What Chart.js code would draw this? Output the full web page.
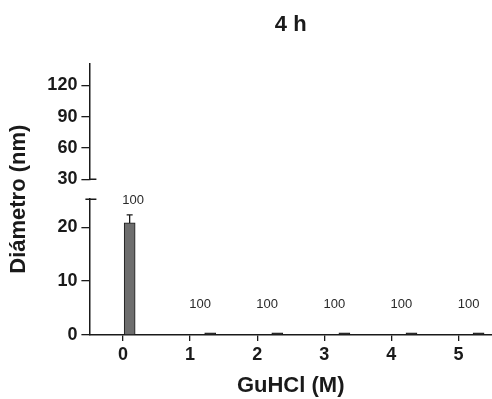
<!DOCTYPE html>
<html>
<head>
<meta charset="utf-8">
<script src="https://cdn.jsdelivr.net/npm/chart.js@4.4.1/dist/chart.umd.min.js"></script>
<style>
  html, body { margin: 0; padding: 0; background: #fff; }
  #wrap { width: 492px; height: 399px; }
</style>
</head>
<body>
<div id="wrap"><canvas id="c" width="492" height="399"></canvas></div>
<script>
// ---- data ----
const guhclTicks = [0, 1, 2, 3, 4, 5];              // x tick labels (M)
const barPositions = [0.1, 1.3, 2.3, 3.3, 4.3, 5.3];  // GuHCl (M) of each bar
const diameters = [20.8, 0.4, 0.4, 0.4, 0.4, 0.4];    // nm
const errors = [1.5, 0, 0, 0, 0, 0];                  // nm (upper error)
const populations = ['100', '100', '100', '100', '100', '100']; // % labels
const upperTicks = [30, 60, 90, 120];
const lowerTicks = [0, 10, 20];
const upperRange = [30, 141];
const lowerRange = [0, 25.2];

const FONT = "'Liberation Sans', Arial, Helvetica, sans-serif";
const INK = '#1a1a1a';

const errorAndLabels = {
  id: 'errorAndLabels',
  afterDatasetsDraw(chart) {
    const ctx = chart.ctx;
    const xs = chart.scales.x, ys = chart.scales.yBottom;
    ctx.save();
    ctx.strokeStyle = INK;
    ctx.lineWidth = 1.3;
    diameters.forEach((v, i) => {
      const e = errors[i];
      if (e > 0) {
        const px = xs.getPixelForValue(barPositions[i]);
        const y0 = ys.getPixelForValue(v);
        const y1 = ys.getPixelForValue(v + e);
        ctx.beginPath();
        ctx.moveTo(px, y0); ctx.lineTo(px, y1);
        ctx.moveTo(px - 3, y1); ctx.lineTo(px + 3, y1);
        ctx.stroke();
      }
    });
    ctx.fillStyle = '#2a2a2a';
    ctx.font = '13px ' + FONT;
    ctx.textAlign = 'center';
    ctx.textBaseline = 'middle';
    populations.forEach((t, i) => {
      const top = diameters[i] + errors[i] + 2.6;
      const yv = Math.max(top, 5.6);
      const px = xs.getPixelForValue(guhclTicks[i] + 0.15);
      ctx.fillText(t, px, ys.getPixelForValue(yv));
    });
    // axis-break marks
    ctx.lineWidth = 1.5;
    const ax = ys.right;
    const yb = ys.top, yt = chart.scales.yTop.bottom;
    ctx.beginPath();
    ctx.moveTo(ax - 4, yb); ctx.lineTo(ax + 7, yb);
    ctx.moveTo(ax, yt); ctx.lineTo(ax + 7, yt);
    ctx.stroke();
    ctx.restore();
  }
};

const tickFont = { family: FONT, size: 18, weight: 'bold' };
const titleFont = { family: FONT, size: 22, weight: 'bold' };
const fixWidth = (s) => { s.width = 45; };

new Chart(document.getElementById('c'), {
  type: 'bar',
  data: {
    datasets: [{
      data: barPositions.map((x, i) => ({ x, y: diameters[i] })),
      backgroundColor: ['#6e6e6e', '#333', '#333', '#333', '#333', '#333'],
      borderColor: INK,
      borderWidth: 1,
      barThickness: 11,
      xAxisID: 'x',
      yAxisID: 'yBottom'
    }]
  },
  options: {
    responsive: false,
    animation: false,
    layout: { padding: { left: 6, right: 0, top: 0, bottom: 0 } },
    plugins: {
      legend: { display: false },
      tooltip: { enabled: false },
      title: {
        display: true, text: '4 h', fullSize: false,
        color: INK, font: titleFont, padding: { top: 12, bottom: 25 }
      }
    },
    scales: {
      x: {
        type: 'linear', position: 'bottom', offset: false,
        min: -0.5, max: 5.5,
        afterBuildTicks: (s) => { s.ticks = guhclTicks.map(v => ({ value: v })); },
        grid: { display: true, offset: false, drawOnChartArea: false, drawTicks: true, tickLength: 6, color: INK, lineWidth: 1.3 },
        border: { display: true, color: INK, width: 1.5 },
        ticks: { color: INK, font: tickFont, padding: 3 },
        title: { display: true, text: 'GuHCl (M)', color: INK, font: titleFont, padding: { top: 4, bottom: 0 } }
      },
      yTitle: {
        type: 'linear', position: 'left', weight: 10,
        grid: { display: false }, border: { display: false },
        ticks: { display: false },
        title: { display: true, text: 'Diámetro (nm)', color: INK, font: titleFont, padding: { top: 0, bottom: 4 } }
      },
      yTop: {
        type: 'linear', position: 'left', stack: 'y', stackWeight: 116, weight: 3,
        min: upperRange[0], max: upperRange[1],
        afterBuildTicks: (s) => { s.ticks = upperTicks.map(v => ({ value: v })); },
        afterFit: fixWidth,
        grid: { display: true, drawOnChartArea: false, tickLength: 8, color: INK, lineWidth: 1.3 },
        border: { display: true, color: INK, width: 1.5 },
        ticks: { color: INK, font: tickFont, padding: 4 }
      },
      ySpacer: {
        type: 'linear', position: 'left', stack: 'y', stackWeight: 20, weight: 2,
        afterFit: fixWidth,
        grid: { display: false }, border: { display: false },
        ticks: { display: false }
      },
      yBottom: {
        type: 'linear', position: 'left', stack: 'y', stackWeight: 136, weight: 1,
        min: lowerRange[0], max: lowerRange[1],
        afterBuildTicks: (s) => { s.ticks = lowerTicks.map(v => ({ value: v })); },
        afterFit: fixWidth,
        grid: { display: true, drawOnChartArea: false, tickLength: 8, color: INK, lineWidth: 1.3 },
        border: { display: true, color: INK, width: 1.5 },
        ticks: { color: INK, font: tickFont, padding: 4 }
      }
    }
  },
  plugins: [errorAndLabels, {
    id: 'bg',
    beforeDraw(chart) {
      const c = chart.ctx; c.save(); c.fillStyle = '#fff';
      c.fillRect(0, 0, chart.width, chart.height); c.restore();
    }
  }]
});
</script>
</body>
</html>
